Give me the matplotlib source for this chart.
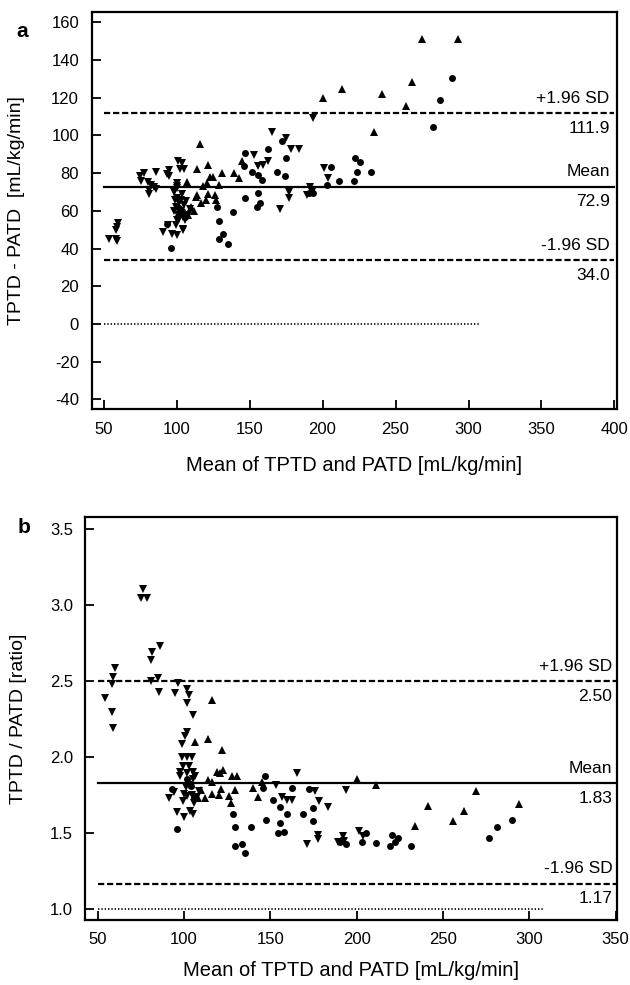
import matplotlib
matplotlib.use("Agg")
import matplotlib.pyplot as plt
import matplotlib.transforms as mtransforms

plt.rcParams['font.family'] = ['Liberation Sans', 'DejaVu Sans']
plt.rcParams['lines.scale_dashes'] = False
plt.rcParams['axes.unicode_minus'] = False

# ---------------- Panel a: difference TPTD - PATD ----------------
a_down_x = [54, 58.5, 59, 58.3, 59, 59.6,
            75, 75.5, 78, 86, 80.6, 81.3, 81, 84.7, 82.5, 86,
            93.2, 95, 94.5, 101.2, 103.5, 102.3, 105, 100.6, 100.6, 98.9,
            91, 94, 96.6, 104.6, 99.6, 104.2, 100,
            98.5, 100, 98.7, 101.5, 99.5, 103, 101, 104.5, 106, 102, 107.5, 109, 105, 103, 100.5, 104, 106.5, 98, 100,
            153.2, 156, 159.4, 162.4, 165.2, 175, 178.4, 183.9, 177.2, 177.2, 170.8, 193.3, 191.4, 189.1, 192.6, 201, 203.9]
a_down_y = [45, 45, 44, 50, 51.5, 53.5,
            78.3, 76, 80.3, 80.4, 75.5, 71, 69, 72.8, 73.5, 71.5,
            79.5, 81.7, 78.5, 86.4, 85.2, 82, 82, 75, 73, 71,
            49, 52.5, 48, 50.4, 52.5, 49.9, 47,
            70, 67, 65.8, 64, 62, 60, 58, 57, 55, 55.5, 58, 61, 63, 66, 72, 69, 65, 60, 55,
            89.6, 83.8, 84.3, 86.4, 102, 98.8, 92.8, 92.8, 70.2, 66.6, 61, 109.1, 72.8, 68.4, 70.2, 82.6, 77.6]

a_up_x = [268, 293, 261, 241, 213, 200, 257, 235, 116, 114, 121.5, 131, 125, 123, 129, 139.5, 143, 145,
          107, 121, 114, 121.5, 126, 113.5, 120.5, 127, 110, 112, 108, 116.5, 118]
a_up_y = [151, 151, 128.5, 122, 124.5, 120, 115.5, 102, 95.5, 82, 84.3, 80, 78, 77.8, 73.5, 80, 77.5, 86.5,
          75.5, 75, 68.5, 69, 68.5, 67.5, 65.7, 65.7, 62, 60, 58, 64, 73]

a_circ_x = [289, 280.3, 275.6, 222.2, 225.7, 223.4, 233, 221.5, 211.5, 205.8, 202.8, 193.7, 190.5,
            146.9, 146.5, 146.9, 151.5, 156, 158.3, 162.8, 172.4, 174.7, 169, 174.3, 155.6, 157.2, 154.9,
            138.6, 128, 129, 129, 132, 135, 96, 93.2, 104, 106, 102]
a_circ_y = [130.7, 118.8, 104.7, 88.2, 86.1, 80.8, 80.8, 76, 76, 83.1, 73.7, 69.3, 69.5,
            90.5, 84, 66.8, 80.8, 79, 76.4, 92.6, 97, 87.9, 80.8, 78.5, 69.3, 64.3, 62,
            59.3, 62, 54.5, 45.1, 47.6, 42.5, 40.5, 53, 60, 57, 61.5]

a_stats = [111.9, 72.9, 34.0]
a_stat_labels = ["+1.96 SD", "Mean", "-1.96 SD"]
a_xticks = [50, 100, 150, 200, 250, 300, 350, 400]
a_yticks = [-40, -20, 0, 20, 40, 60, 80, 100, 120, 140, 160]

# ---------------- Panel b: ratio TPTD / PATD ----------------
b_down_x = [76.1, 75, 78.8, 86.1, 81.7, 80.7, 60.1, 59.1, 58.2, 54.3, 58.5, 59.1, 80.7, 85.1, 85.6,
            96.4, 94.8, 101.6, 103.1, 101.6, 105.1, 101.6, 100.6, 98.7, 98.7, 101.6, 104.5, 99.6, 97.7, 101.6, 105.4,
            103, 101, 104.5, 106, 102, 107.5, 109, 105, 103, 106.5, 98, 100, 94, 91.2, 95.8, 105.1, 99.6, 103.5, 100,
            165.3, 153.3, 175.9, 156.6, 159.5, 162.4, 178.4, 183.6, 171.4, 177.8, 177.8, 189.4, 192.5, 191.9,
            193.7, 201.5, 203.5]
b_down_y = [3.105, 3.05, 3.05, 2.73, 2.69, 2.64, 2.59, 2.53, 2.48, 2.39, 2.30, 2.19, 2.50, 2.52, 2.43,
            2.49, 2.42, 2.45, 2.41, 2.36, 2.28, 2.17, 2.14, 2.09, 2.0, 2.0, 2.0, 1.94, 1.905, 1.895, 1.905,
            1.82, 1.805, 1.75, 1.70, 1.747, 1.739, 1.777, 1.857, 1.943, 1.878, 1.88, 1.76, 1.775, 1.73, 1.64, 1.63, 1.716, 1.645, 1.61,
            1.895, 1.82, 1.78, 1.74, 1.72, 1.72, 1.71, 1.675, 1.43, 1.49, 1.46, 1.445, 1.45, 1.48,
            1.785, 1.515, 1.48]

b_up_x = [116.4, 106.4, 114.1, 122.2, 119, 122.8, 121, 127.6, 130.5, 114.1, 116, 145.3, 139.8, 129.6, 143,
          200.4, 211, 268.9, 241.5, 262.3, 234, 256, 293.8,
          121.5, 126, 120.5, 127, 110, 112, 108, 116.5]
b_up_y = [2.38, 2.10, 2.12, 2.05, 1.905, 1.92, 1.895, 1.877, 1.877, 1.85, 1.84, 1.84, 1.80, 1.785, 1.74,
          1.857, 1.82, 1.78, 1.68, 1.65, 1.55, 1.58, 1.69,
          1.79, 1.745, 1.75, 1.70, 1.785, 1.73, 1.735, 1.757]

b_circ_x = [147, 146, 162.7, 172.4, 151.7, 155.6, 159.5, 174.9, 168.8, 174.9, 147.3, 155.6, 154.6, 157.9,
            138.6, 129.6, 128.2, 129.6, 133.5, 135.3, 95.8, 93, 205.5, 203.3, 190.5, 193.8, 211, 220.5, 224,
            219.5, 222, 231.5, 276.9, 281.1, 289.8, 104, 106, 102]
b_circ_y = [1.88, 1.80, 1.80, 1.79, 1.72, 1.675, 1.63, 1.67, 1.63, 1.58, 1.59, 1.57, 1.50, 1.51,
            1.54, 1.54, 1.63, 1.42, 1.43, 1.37, 1.53, 1.79, 1.50, 1.445, 1.445, 1.43, 1.435, 1.49, 1.47,
            1.42, 1.445, 1.42, 1.47, 1.54, 1.59, 1.81, 1.735, 1.86]

b_stats = [2.50, 1.83, 1.17]
b_stat_labels = ["+1.96 SD", "Mean", "-1.96 SD"]
b_xticks = [50, 100, 150, 200, 250, 300, 350]
b_yticks = [1.0, 1.5, 2.0, 2.5, 3.0, 3.5]

xlabel = "Mean of TPTD and PATD [mL/kg/min]"

fig = plt.figure(figsize=(6.3, 9.85), dpi=100)
ax_a = fig.add_axes([0.1454, 0.58447, 0.8332, 0.40365])
ax_b = fig.add_axes([0.1357, 0.06599, 0.8429, 0.40944])


def style(ax):
    for s in ax.spines.values():
        s.set_linewidth(1.6)
    ax.tick_params(direction='in', length=6.5, width=1.3, labelsize=12, pad=9)


def draw(ax, dx, dy, ux, uy, cx, cy, stats, labels, fmt, line_end, dot_y, dot_end, txt_x):
    ax.plot(dx, dy, 'v', color='black', ms=5.8, mec='black', mew=0, ls='none')
    ax.plot(ux, uy, '^', color='black', ms=5.4, mec='black', mew=0, ls='none')
    ax.plot(cx, cy, 'o', color='black', ms=5.0, mec='black', mew=0, ls='none')
    ax.plot([50, line_end], [stats[0], stats[0]], color='black', lw=1.6, dashes=(4.5, 2.0))
    ax.plot([50, line_end], [stats[1], stats[1]], color='black', lw=1.6)
    ax.plot([50, line_end], [stats[2], stats[2]], color='black', lw=1.6, dashes=(4.5, 2.0))
    ax.plot([50, dot_end], [dot_y, dot_y], color='black', lw=1.2, dashes=(1.0, 1.4))
    trans = mtransforms.blended_transform_factory(ax.transAxes, ax.transData)
    for v, lab in zip(stats, labels):
        ax.annotate(lab, xy=(txt_x, v), xycoords=trans, xytext=(0, 10.5), textcoords='offset points',
                    ha='right', va='center', fontsize=12.5)
        ax.annotate(fmt.format(v), xy=(txt_x, v), xycoords=trans, xytext=(0, -11), textcoords='offset points',
                    ha='right', va='center', fontsize=12.5)


style(ax_a)
draw(ax_a, a_down_x, a_down_y, a_up_x, a_up_y, a_circ_x, a_circ_y, a_stats, a_stat_labels,
     "{:.1f}", 400, 0, 307, 0.987)
ax_a.set_xlim(41.8, 401.4)
ax_a.set_ylim(-45.2, 165.6)
ax_a.set_xticks(a_xticks)
ax_a.set_yticks(a_yticks)
ax_a.set_xlabel(xlabel, fontsize=14.5)
ax_a.set_ylabel("TPTD - PATD  [mL/kg/min]", fontsize=14)
ax_a.xaxis.set_label_coords(0.5, -0.117)
ax_a.yaxis.set_label_coords(-0.127, 0.5)

style(ax_b)
draw(ax_b, b_down_x, b_down_y, b_up_x, b_up_y, b_circ_x, b_circ_y, b_stats, b_stat_labels,
     "{:.2f}", 350, 1.0, 308, 0.992)
ax_b.set_xlim(43, 350.5)
ax_b.set_ylim(0.93, 3.583)
ax_b.set_xticks(b_xticks)
ax_b.set_yticks(b_yticks)
ax_b.set_yticklabels(["{:.1f}".format(v) for v in b_yticks])
ax_b.set_xlabel(xlabel, fontsize=14.5)
ax_b.set_ylabel("TPTD / PATD [ratio]", fontsize=14)
ax_b.xaxis.set_label_coords(0.5, -0.102)
ax_b.yaxis.set_label_coords(-0.110, 0.5)

fig.text(0.035, 0.9678, "a", fontsize=15, fontweight='bold', ha='center', va='center')
fig.text(0.038, 0.464, "b", fontsize=15, fontweight='bold', ha='center', va='center')

fig.savefig("out.png", dpi=100)
